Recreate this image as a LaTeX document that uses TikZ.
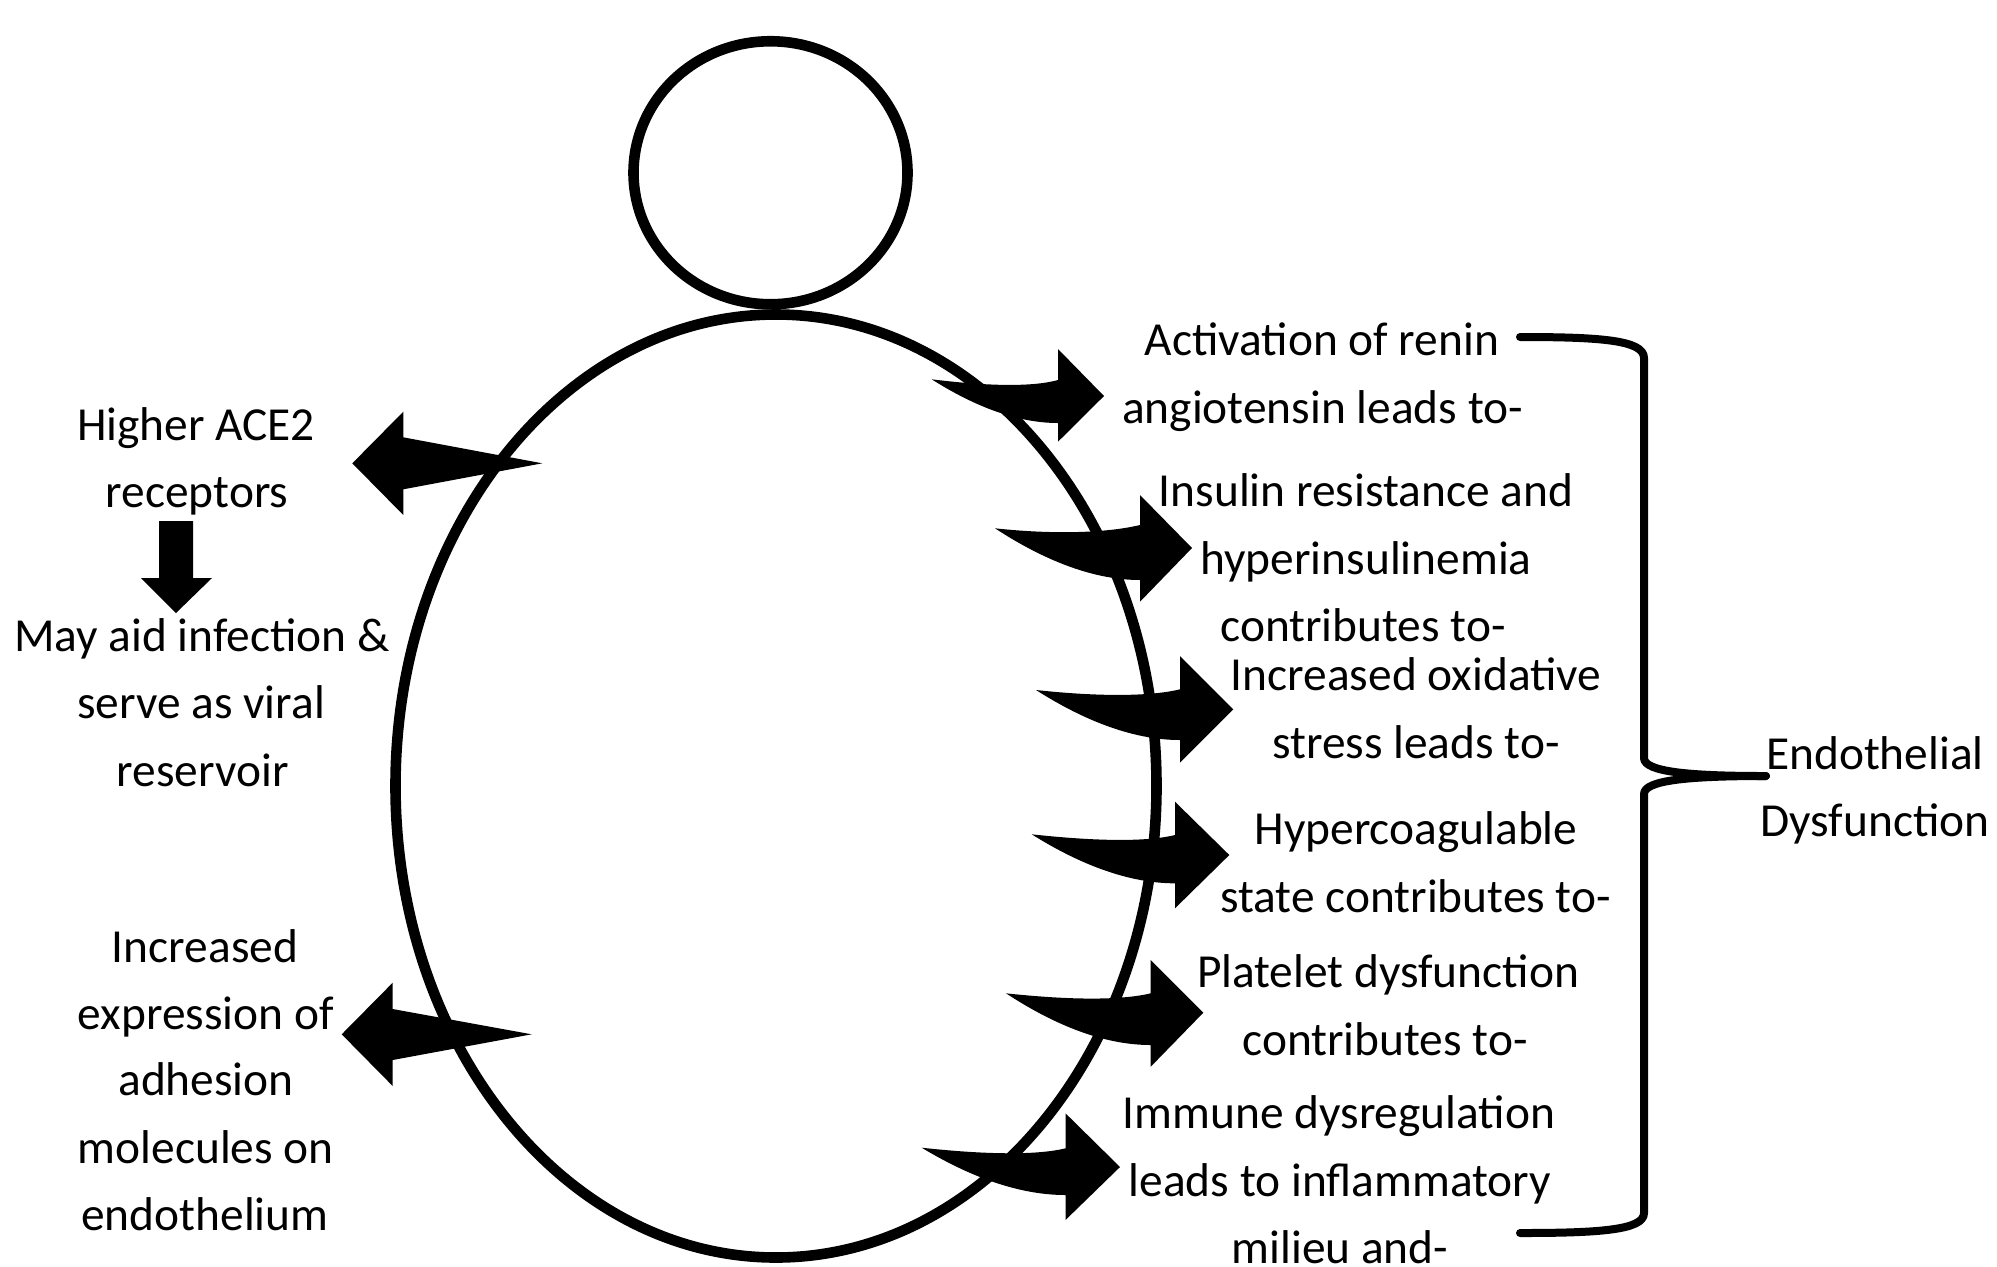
\documentclass[tikz,border=0pt]{standalone}
\usepackage{fontspec}
\setmainfont{Carlito}
\usetikzlibrary{shapes.geometric}
\newcommand\rcurv[9]{% tail x, tail y, base x, shaft top, shaft bottom, barb top, barb bottom, tip x, tip y
  \pgfmathsetmacro\Lx{#3-#1}%
  \fill[black] (#1,#2) .. controls ({#1+0.45*\Lx},{#2+7}) and ({#3-0.2*\Lx},{#4+7}) .. (#3,#4)
     -- (#3,#6) -- (#8,#9) -- (#3,#7) -- (#3,#5)
     .. controls ({#3-0.35*\Lx},#5) and ({#1+0.3*\Lx},{#2+0.55*(#5-#2)}) .. cycle;}
\begin{document}
\begin{tikzpicture}[x=0.5pt,y=-0.5pt,
  txt/.style={font=\fontsize{23.7pt}{28pt}\selectfont, anchor=base, inner sep=0pt},
  outline/.style={draw=black, line width=5.3pt, ellipse, inner sep=0pt},
  bracestyle/.style={draw=black, line width=4pt, line cap=round, line join=round}]
\useasboundingbox (0,0) rectangle (1997,1266);

% figure
\node[outline, minimum width=380.5pt, minimum height=471.5pt] (body) at (776,786) {};
\node[outline, minimum width=137pt, minimum height=131.5pt] (head) at (770.5,172.75) {};

% left arrows
\fill[black] (352.3,463.3) -- (403.3,411.7) -- (403.3,437.3) -- (542.3,463.3) -- (403.3,489.3) -- (403.3,515) -- cycle;
\fill[black] (341.7,1034.3) -- (392.7,982.7) -- (392.7,1009) -- (531.7,1034.3) -- (392.7,1060) -- (392.7,1086) -- cycle;
% down arrow
\fill[black] (159,521) -- (193,521) -- (193,578) -- (212,578) -- (176,613) -- (141,578) -- (159,578) -- cycle;

% right curved arrows
\rcurv{931.7}{379.3}{1058}{380}{423}{349}{441.7}{1104}{396}
\rcurv{995}{528.3}{1140}{525}{580}{495}{601.7}{1192}{548}
\rcurv{1036}{690}{1180}{689.3}{740}{656}{762.7}{1233.3}{709.3}
\rcurv{1031.7}{834.3}{1175}{835}{883.3}{801.7}{908.3}{1229.3}{855}
\rcurv{1006}{993.3}{1150.7}{993.3}{1045}{960}{1066.7}{1203.3}{1012.7}
\rcurv{921.7}{1147.7}{1065.5}{1148.3}{1195}{1113.3}{1220}{1120}{1167}

% left texts
\node[txt] (a1) at (196,440) {Higher ACE2};
\node[txt] (a2) at (197,507) {receptors};
\node[txt] (b1) at (202,651) {May aid infection \&};
\node[txt] (b2) at (201,718.5) {serve as viral};
\node[txt] (b3) at (202.5,786) {reservoir};
\node[txt] (c1) at (205,962) {Increased};
\node[txt] (c2) at (205.7,1029) {expression of};
\node[txt] (c3) at (206,1095) {adhesion};
\node[txt] (c4) at (205.7,1163) {molecules on};
\node[txt] (c5) at (205,1230) {endothelium};

% right texts
\node[txt] (r1a) at (1322,355) {Activation of renin};
\node[txt] (r1b) at (1322.6,423) {angiotensin leads to-};
\node[txt] (r2a) at (1366,506) {Insulin resistance and};
\node[txt] (r2b) at (1366,574) {hyperinsulinemia};
\node[txt] (r2c) at (1363,641) {contributes to-};
\node[txt] (r3a) at (1416,690) {Increased oxidative};
\node[txt] (r3b) at (1416,758) {stress leads to-};
\node[txt] (r4a) at (1416,844) {Hypercoagulable};
\node[txt] (r4b) at (1415.6,912) {state contributes to-};
\node[txt] (r5a) at (1388,987) {Platelet dysfunction};
\node[txt] (r5b) at (1385,1055) {contributes to-};
\node[txt] (r6a) at (1339,1128) {Immune dysregulation};
\node[txt] (r6b) at (1340,1196) {leads to inflammatory};
\node[txt] (r6c) at (1340,1263) {milieu and-};

\node[txt] (e1) at (1875,769) {Endothelial};
\node[txt] (e2) at (1875,836) {Dysfunction};

% brace
\coordinate (bt) at (1520,337);
\coordinate (bm) at (1766,776);
\coordinate (bb) at (1520,1233);
\draw[bracestyle] (bt) .. controls (1600,337) and (1644,340) .. (1644,358) -- (1644,758)
   .. controls (1644,772) and (1690,776) .. (bm);
\draw[bracestyle] (bm) .. controls (1690,776) and (1644,780) .. (1644,794) -- (1644,1213)
   .. controls (1644,1230) and (1600,1233) .. (bb);
\end{tikzpicture}
\end{document}
